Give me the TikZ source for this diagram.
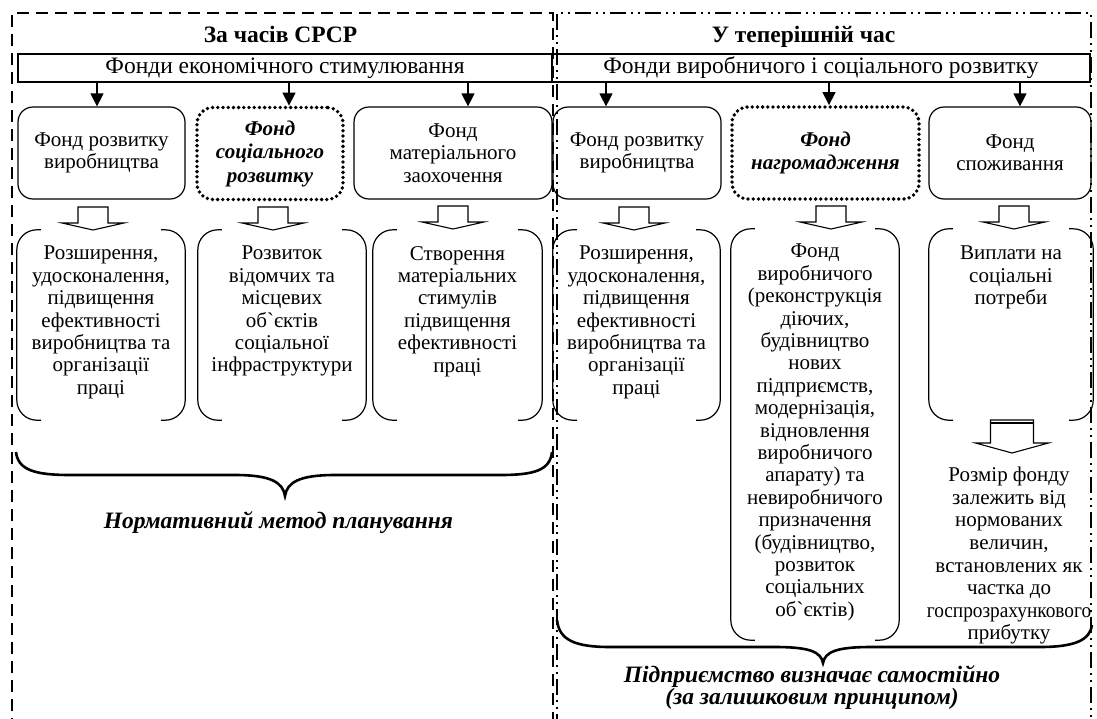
\documentclass[tikz,border=0pt]{standalone}
\usepackage{fontspec}
\setmainfont{Liberation Serif}[Ligatures=TeXOff]
\usetikzlibrary{arrows.meta}
\tikzset{
  topbox/.style={draw, line width=1.2pt, rounded corners=15pt, align=center, inner sep=0pt},
  dotbox/.style={draw, line width=3.8pt, dash pattern=on 0pt off 5.2pt, line cap=round,
    rounded corners=16pt, align=center, inner sep=0pt,
    font=\fontsize{21}{23.5}\selectfont\bfseries\itshape},
  hdr/.style={draw, line width=1.2pt, inner sep=0pt, minimum height=28pt,
    font=\fontsize{23.5}{26}\selectfont},
  area/.style={inner sep=0pt},
  txt/.style={align=center, inner sep=0pt, anchor=north},
  brk/.style={line width=1.2pt, rounded corners=20pt},
  arr/.style={line width=1.2pt, -{Triangle[width=13pt,length=13pt]}},
  brace/.style={line width=2.6pt},
  title/.style={font=\fontsize{23.5}{26}\selectfont\bfseries, anchor=base, inner sep=0pt},
  note/.style={font=\fontsize{23.5}{22}\selectfont\bfseries\itshape, align=center},
  frameL/.style={line width=1.6pt, dash pattern=on 12pt off 7pt},
  frameR/.style={line width=1.6pt, dash pattern=on 16pt off 5pt on 2pt off 5pt on 2pt off 5pt},
  hollow/.pic={
    \draw[line width=1.1pt, fill=white] (-15,-23) -- (15,-23) -- (15,-7) -- (31,-7)
      -- (0,0) -- (-31,-7) -- (-15,-7) -- cycle;},
  bighollow/.pic={
    \draw[line width=1.1pt, fill=white] (-21.5,-33) -- (21.5,-33) -- (21.5,-10) -- (36.5,-10)
      -- (0,0) -- (-36.5,-10) -- (-21.5,-10) -- cycle;
    \draw[line width=1.1pt] (-21.5,-30) -- (21.5,-30);}
}
\newcommand\openbox[1]{%
  \draw[brk] ([xshift=24pt]#1.north west) -- (#1.north west) -- (#1.south west) -- ([xshift=24pt]#1.south west);
  \draw[brk] ([xshift=-24pt]#1.north east) -- (#1.north east) -- (#1.south east) -- ([xshift=-24pt]#1.south east);}
\begin{document}
\begin{tikzpicture}[x=1pt, y=-1pt, font=\fontsize{21}{22.4}\selectfont]
\useasboundingbox (0,0) rectangle (1097,718);

% outer frames
\draw[frameL] (12,730) -- (12,13) -- (553,13) -- (553,730);
\draw[frameR] (557,730) -- (557,13) -- (1091,13) -- (1091,730);

% titles
\node[title] (tL) at (280.5,42) {За часів СРСР};
\node[title] (tR) at (803.5,42) {У теперішній час};

% header bars
\node[hdr, minimum width=534pt] (hL) at (285,68) {Фонди економічного стимулювання};
\node[hdr, minimum width=538pt] (hR) at (821,68) {Фонди виробничого і соціального розвитку};

% fund boxes
\node[topbox, minimum width=167pt, minimum height=92pt] (b1) at (101.5,153) {Фонд розвитку\\виробництва};
\node[dotbox, minimum width=146pt, minimum height=92pt] (b2) at (270,153.5) {Фонд\\соціального\\розвитку};
\node[topbox, minimum width=198pt, minimum height=92pt] (b3) at (453,153) {Фонд\\матеріального\\заохочення};
\node[topbox, minimum width=168pt, minimum height=92pt] (b4) at (637,153) {Фонд розвитку\\виробництва};
\node[dotbox, minimum width=187pt, minimum height=92pt] (b5) at (825.5,153) {Фонд\\нагромадження};
\node[topbox, minimum width=162pt, minimum height=92pt] (b6) at (1010,153) {Фонд\\споживання};

% arrows from the header bars
\coordinate (x1) at (97,0);
\coordinate (x2) at (289,0);
\coordinate (x3) at (468,0);
\coordinate (x4) at (606,0);
\coordinate (x5) at (829,0);
\coordinate (x6) at (1020,0);
\draw[arr] (hL.south -| x1) -- (b1.north -| x1);
\draw[arr] (hL.south -| x2) -- (b2.north -| x2);
\draw[arr] (hL.south -| x3) -- (b3.north -| x3);
\draw[arr] (hR.south -| x4) -- (b4.north -| x4);
\draw[arr] (hR.south -| x5) -- (b5.north -| x5);
\draw[arr] (hR.south -| x6) -- (b6.north -| x6);

% purpose areas
\node[area, minimum width=168pt, minimum height=190pt] (r1) at (101,325) {};
\node[area, minimum width=168pt, minimum height=190pt] (r2) at (282,325) {};
\node[area, minimum width=169pt, minimum height=190pt] (r3) at (457.5,325) {};
\node[area, minimum width=167pt, minimum height=190pt] (r4) at (636.5,325) {};
\node[area, minimum width=168pt, minimum height=411pt] (r5) at (815,434.5) {};
\node[area, minimum width=164pt, minimum height=191pt] (r6) at (1011,324.5) {};
\openbox{r1}
\openbox{r2}
\openbox{r3}
\openbox{r4}
\openbox{r5}
\openbox{r6}

\node[txt] (t1) at (101,246) {Розширення,\\удосконалення,\\підвищення\\ефективності\\виробництва та\\організації\\праці};
\node[txt] (t2) at (282,246) {Розвиток\\відомчих та\\місцевих\\об`єктів\\соціальної\\інфраструктури};
\node[txt] (t3) at (457.5,246) {Створення\\матеріальних\\стимулів\\підвищення\\ефективності\\праці};
\node[txt] (t4) at (636.5,246) {Розширення,\\удосконалення,\\підвищення\\ефективності\\виробництва та\\організації\\праці};
\node[txt] (t5) at (815,244) {Фонд\\виробничого\\(реконструкція\\діючих,\\будівництво\\нових\\підприємств,\\модернізація,\\відновлення\\виробничого\\апарату) та\\невиробничого\\призначення\\(будівництво,\\розвиток\\соціальних\\об`єктів)};
\node[txt] (t6) at (1011,246) {Виплати на\\соціальні\\потреби};
\node[txt, font=\fontsize{21}{22.6}\selectfont] (t7) at (1009,467) {Розмір фонду\\залежить від\\нормованих\\величин,\\встановлених як\\частка до\\\scalebox{0.92}[1]{госпрозрахункового}\\прибутку};

% hollow arrows
\coordinate (h1) at (93,230);
\coordinate (h2) at (273,230);
\coordinate (h3) at (453,229);
\coordinate (h4) at (634,230);
\coordinate (h5) at (831,229);
\coordinate (h6) at (1014,229);
\coordinate (h7) at (1012,453);
\pic at (h1) {hollow};
\pic at (h2) {hollow};
\pic at (h3) {hollow};
\pic at (h4) {hollow};
\pic at (h5) {hollow};
\pic at (h6) {hollow};
\pic at (h7) {bighollow};

% braces
\draw[brace] (16,452) .. controls (18,470) and (35,475) .. (70,475) -- (235,475)
  .. controls (270,475) and (283,482) .. (285,496)
  .. controls (287,482) and (300,475) .. (335,475) -- (500,475)
  .. controls (535,475) and (550,470) .. (552,452);
\draw[brace] (557,620) .. controls (559,640) and (575,647) .. (610,647) -- (775,647)
  .. controls (810,647) and (821,652) .. (823,663)
  .. controls (825,652) and (836,647) .. (871,647) -- (1040,647)
  .. controls (1075,647) and (1090,640) .. (1092,625);

% method notes
\node[note] (n1) at (278.5,523) {Нормативний метод планування};
\node[note] (n2) at (812,688) {Підприємство визначає самостійно\\(за залишковим принципом)};
\end{tikzpicture}
\end{document}
